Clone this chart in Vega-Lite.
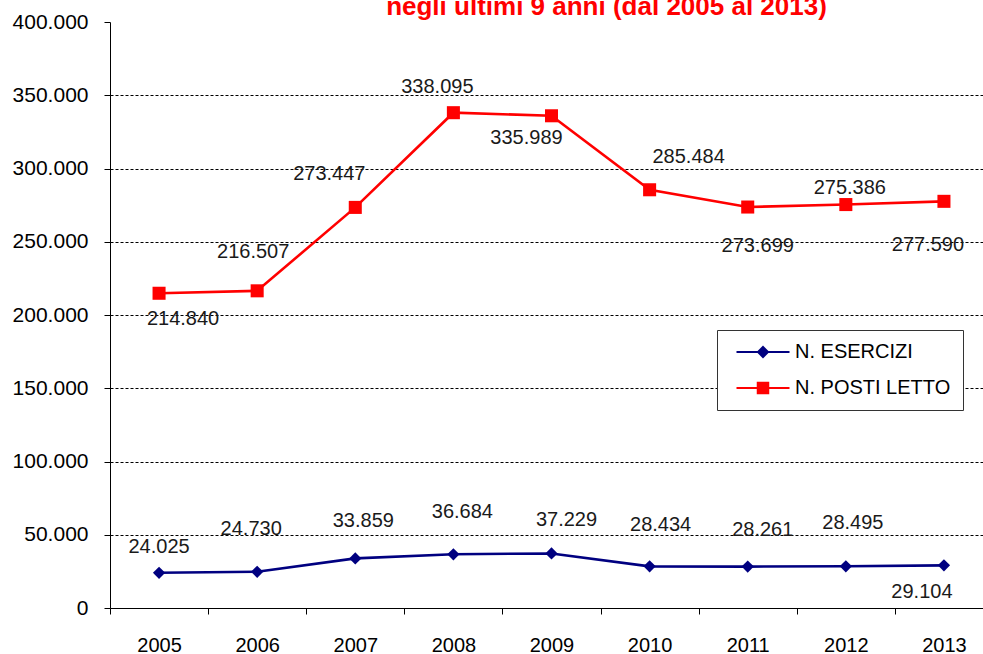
{
  "$schema": "https://vega.github.io/schema/vega-lite/v6.json",
  "autosize": "none",
  "padding": {"left": 110, "top": 22, "right": 0, "bottom": 46},
  "width": 873,
  "height": 586,
  "background": "#ffffff",
  "config": {
    "locale": {"number": {"decimal": ",", "thousands": ".", "grouping": [3], "currency": ["€", ""]}},
    "font": "Liberation Sans",
    "view": {"stroke": null},
    "axis": {"labelFont": "Liberation Sans", "labelColor": "#000000", "domainColor": "#000000", "tickColor": "#000000", "domainWidth": 1, "tickWidth": 1}
  },
  "title": {
    "text": "negli ultimi 9 anni (dal 2005 al 2013)",
    "color": "#FF0000",
    "fontWeight": "bold",
    "fontSize": 26,
    "font": "Liberation Sans",
    "anchor": "middle",
    "frame": "group",
    "baseline": "alphabetic",
    "offset": 5,
    "dx": 60,
    "dy": 35
  },
  "data": {
    "values": [
      {"year": "2005", "series": "N. ESERCIZI", "value": 24025},
      {"year": "2006", "series": "N. ESERCIZI", "value": 24730},
      {"year": "2007", "series": "N. ESERCIZI", "value": 33859},
      {"year": "2008", "series": "N. ESERCIZI", "value": 36684},
      {"year": "2009", "series": "N. ESERCIZI", "value": 37229},
      {"year": "2010", "series": "N. ESERCIZI", "value": 28434},
      {"year": "2011", "series": "N. ESERCIZI", "value": 28261},
      {"year": "2012", "series": "N. ESERCIZI", "value": 28495},
      {"year": "2013", "series": "N. ESERCIZI", "value": 29104},
      {"year": "2005", "series": "N. POSTI LETTO", "value": 214840},
      {"year": "2006", "series": "N. POSTI LETTO", "value": 216507},
      {"year": "2007", "series": "N. POSTI LETTO", "value": 273447},
      {"year": "2008", "series": "N. POSTI LETTO", "value": 338095},
      {"year": "2009", "series": "N. POSTI LETTO", "value": 335989},
      {"year": "2010", "series": "N. POSTI LETTO", "value": 285484},
      {"year": "2011", "series": "N. POSTI LETTO", "value": 273699},
      {"year": "2012", "series": "N. POSTI LETTO", "value": 275386},
      {"year": "2013", "series": "N. POSTI LETTO", "value": 277590}
    ]
  },
  "encoding": {
    "x": {
      "field": "year", "type": "ordinal",
      "scale": {"type": "band", "paddingInner": 0, "paddingOuter": 0, "range": [0, 883]},
      "axis": {"title": null, "labelAngle": 0, "labelFontSize": 20, "tickBand": "extent", "tickSize": 6, "labelPadding": 21, "labelBaseline": "top", "grid": false, "labelColor": "#000000"}
    },
    "y": {
      "field": "value", "type": "quantitative",
      "scale": {"domain": [0, 400000], "nice": false, "zero": true},
      "axis": {
        "title": null, "values": [0, 50000, 100000, 150000, 200000, 250000, 300000, 350000, 400000],
        "format": ",.0f", "labelFontSize": 21, "tickSize": 6, "labelPadding": 16,
        "grid": true, "gridColor": "#000000", "gridDash": [3, 2], "gridWidth": 1,
        "gridOpacity": {"condition": {"test": "datum.value >= 400000 || datum.value <= 0", "value": 0}, "value": 1}
      }
    }
  },
  "layer": [
    {
      "mark": {"type": "line", "strokeWidth": 2.6},
      "encoding": {
        "color": {
          "field": "series", "type": "nominal",
          "scale": {"domain": ["N. ESERCIZI", "N. POSTI LETTO"], "range": ["#000080", "#FF0000"]},
          "legend": {
            "title": null, "orient": "none", "legendX": 607, "legendY": 308,
            "direction": "vertical",
            "strokeColor": "#333333", "fillColor": "#ffffff", "cornerRadius": 0,
            "padding": 12, "symbolSize": 100, "symbolStrokeWidth": 2,
            "symbolOffset": 24, "labelOffset": 22, "rowPadding": 16,
            "labelFont": "Liberation Sans", "labelFontSize": 20, "labelColor": "#000000",
            "encode": {
              "symbols": {
                "update": {
                  "shape": {"signal": "datum.value == 'N. ESERCIZI' ? 'M-5.3,0H5.3M0,-1L1,0L0,1L-1,0Z' : 'M-5.3,0H5.3M-1.05,-1.05H1.05V1.05H-1.05Z'"},
                  "fill": {"signal": "datum.value == 'N. ESERCIZI' ? '#000080' : '#FF0000'"},
                  "stroke": {"signal": "datum.value == 'N. ESERCIZI' ? '#000080' : '#FF0000'"},
                  "strokeWidth": {"value": 2}
                }
              }
            }
          }
        }
      }
    },
    {
      "transform": [{"filter": "datum.series == 'N. ESERCIZI'"}],
      "mark": {"type": "point", "shape": "diamond", "filled": true, "size": 150, "color": "#000080", "opacity": 1}
    },
    {
      "transform": [{"filter": "datum.series == 'N. POSTI LETTO'"}],
      "mark": {"type": "point", "shape": "square", "filled": true, "size": 170, "color": "#FF0000", "opacity": 1}
    },
    {
      "transform": [{"filter": "datum.series == 'N. ESERCIZI' && datum.year == '2005'"}],
      "mark": {"type": "text", "fontSize": 20, "color": "#1a1a1a", "baseline": "middle", "dx": 0, "dy": -26},
      "encoding": {"text": {"field": "value", "type": "quantitative", "format": ",.0f"}}
    },
    {
      "transform": [{"filter": "datum.series == 'N. ESERCIZI' && datum.year == '2006'"}],
      "mark": {"type": "text", "fontSize": 20, "color": "#1a1a1a", "baseline": "middle", "dx": -6, "dy": -43},
      "encoding": {"text": {"field": "value", "type": "quantitative", "format": ",.0f"}}
    },
    {
      "transform": [{"filter": "datum.series == 'N. ESERCIZI' && datum.year == '2007'"}],
      "mark": {"type": "text", "fontSize": 20, "color": "#1a1a1a", "baseline": "middle", "dx": 8, "dy": -37},
      "encoding": {"text": {"field": "value", "type": "quantitative", "format": ",.0f"}}
    },
    {
      "transform": [{"filter": "datum.series == 'N. ESERCIZI' && datum.year == '2008'"}],
      "mark": {"type": "text", "fontSize": 20, "color": "#1a1a1a", "baseline": "middle", "dx": 9, "dy": -42},
      "encoding": {"text": {"field": "value", "type": "quantitative", "format": ",.0f"}}
    },
    {
      "transform": [{"filter": "datum.series == 'N. ESERCIZI' && datum.year == '2009'"}],
      "mark": {"type": "text", "fontSize": 20, "color": "#1a1a1a", "baseline": "middle", "dx": 15, "dy": -33},
      "encoding": {"text": {"field": "value", "type": "quantitative", "format": ",.0f"}}
    },
    {
      "transform": [{"filter": "datum.series == 'N. ESERCIZI' && datum.year == '2010'"}],
      "mark": {"type": "text", "fontSize": 20, "color": "#1a1a1a", "baseline": "middle", "dx": 11, "dy": -41},
      "encoding": {"text": {"field": "value", "type": "quantitative", "format": ",.0f"}}
    },
    {
      "transform": [{"filter": "datum.series == 'N. ESERCIZI' && datum.year == '2011'"}],
      "mark": {"type": "text", "fontSize": 20, "color": "#1a1a1a", "baseline": "middle", "dx": 15, "dy": -37},
      "encoding": {"text": {"field": "value", "type": "quantitative", "format": ",.0f"}}
    },
    {
      "transform": [{"filter": "datum.series == 'N. ESERCIZI' && datum.year == '2012'"}],
      "mark": {"type": "text", "fontSize": 20, "color": "#1a1a1a", "baseline": "middle", "dx": 7, "dy": -43},
      "encoding": {"text": {"field": "value", "type": "quantitative", "format": ",.0f"}}
    },
    {
      "transform": [{"filter": "datum.series == 'N. ESERCIZI' && datum.year == '2013'"}],
      "mark": {"type": "text", "fontSize": 20, "color": "#1a1a1a", "baseline": "middle", "dx": -22, "dy": 27},
      "encoding": {"text": {"field": "value", "type": "quantitative", "format": ",.0f"}}
    },
    {
      "transform": [{"filter": "datum.series == 'N. POSTI LETTO' && datum.year == '2005'"}],
      "mark": {"type": "text", "fontSize": 20, "color": "#1a1a1a", "baseline": "middle", "dx": 24, "dy": 26},
      "encoding": {"text": {"field": "value", "type": "quantitative", "format": ",.0f"}}
    },
    {
      "transform": [{"filter": "datum.series == 'N. POSTI LETTO' && datum.year == '2006'"}],
      "mark": {"type": "text", "fontSize": 20, "color": "#1a1a1a", "baseline": "middle", "dx": -4, "dy": -39},
      "encoding": {"text": {"field": "value", "type": "quantitative", "format": ",.0f"}}
    },
    {
      "transform": [{"filter": "datum.series == 'N. POSTI LETTO' && datum.year == '2007'"}],
      "mark": {"type": "text", "fontSize": 20, "color": "#1a1a1a", "baseline": "middle", "dx": -26, "dy": -33},
      "encoding": {"text": {"field": "value", "type": "quantitative", "format": ",.0f"}}
    },
    {
      "transform": [{"filter": "datum.series == 'N. POSTI LETTO' && datum.year == '2008'"}],
      "mark": {"type": "text", "fontSize": 20, "color": "#1a1a1a", "baseline": "middle", "dx": -16, "dy": -26},
      "encoding": {"text": {"field": "value", "type": "quantitative", "format": ",.0f"}}
    },
    {
      "transform": [{"filter": "datum.series == 'N. POSTI LETTO' && datum.year == '2009'"}],
      "mark": {"type": "text", "fontSize": 20, "color": "#1a1a1a", "baseline": "middle", "dx": -25, "dy": 22},
      "encoding": {"text": {"field": "value", "type": "quantitative", "format": ",.0f"}}
    },
    {
      "transform": [{"filter": "datum.series == 'N. POSTI LETTO' && datum.year == '2010'"}],
      "mark": {"type": "text", "fontSize": 20, "color": "#1a1a1a", "baseline": "middle", "dx": 39, "dy": -33},
      "encoding": {"text": {"field": "value", "type": "quantitative", "format": ",.0f"}}
    },
    {
      "transform": [{"filter": "datum.series == 'N. POSTI LETTO' && datum.year == '2011'"}],
      "mark": {"type": "text", "fontSize": 20, "color": "#1a1a1a", "baseline": "middle", "dx": 10, "dy": 39},
      "encoding": {"text": {"field": "value", "type": "quantitative", "format": ",.0f"}}
    },
    {
      "transform": [{"filter": "datum.series == 'N. POSTI LETTO' && datum.year == '2012'"}],
      "mark": {"type": "text", "fontSize": 20, "color": "#1a1a1a", "baseline": "middle", "dx": 4, "dy": -17},
      "encoding": {"text": {"field": "value", "type": "quantitative", "format": ",.0f"}}
    },
    {
      "transform": [{"filter": "datum.series == 'N. POSTI LETTO' && datum.year == '2013'"}],
      "mark": {"type": "text", "fontSize": 20, "color": "#1a1a1a", "baseline": "middle", "dx": -16, "dy": 44},
      "encoding": {"text": {"field": "value", "type": "quantitative", "format": ",.0f"}}
    }
  ]
}
